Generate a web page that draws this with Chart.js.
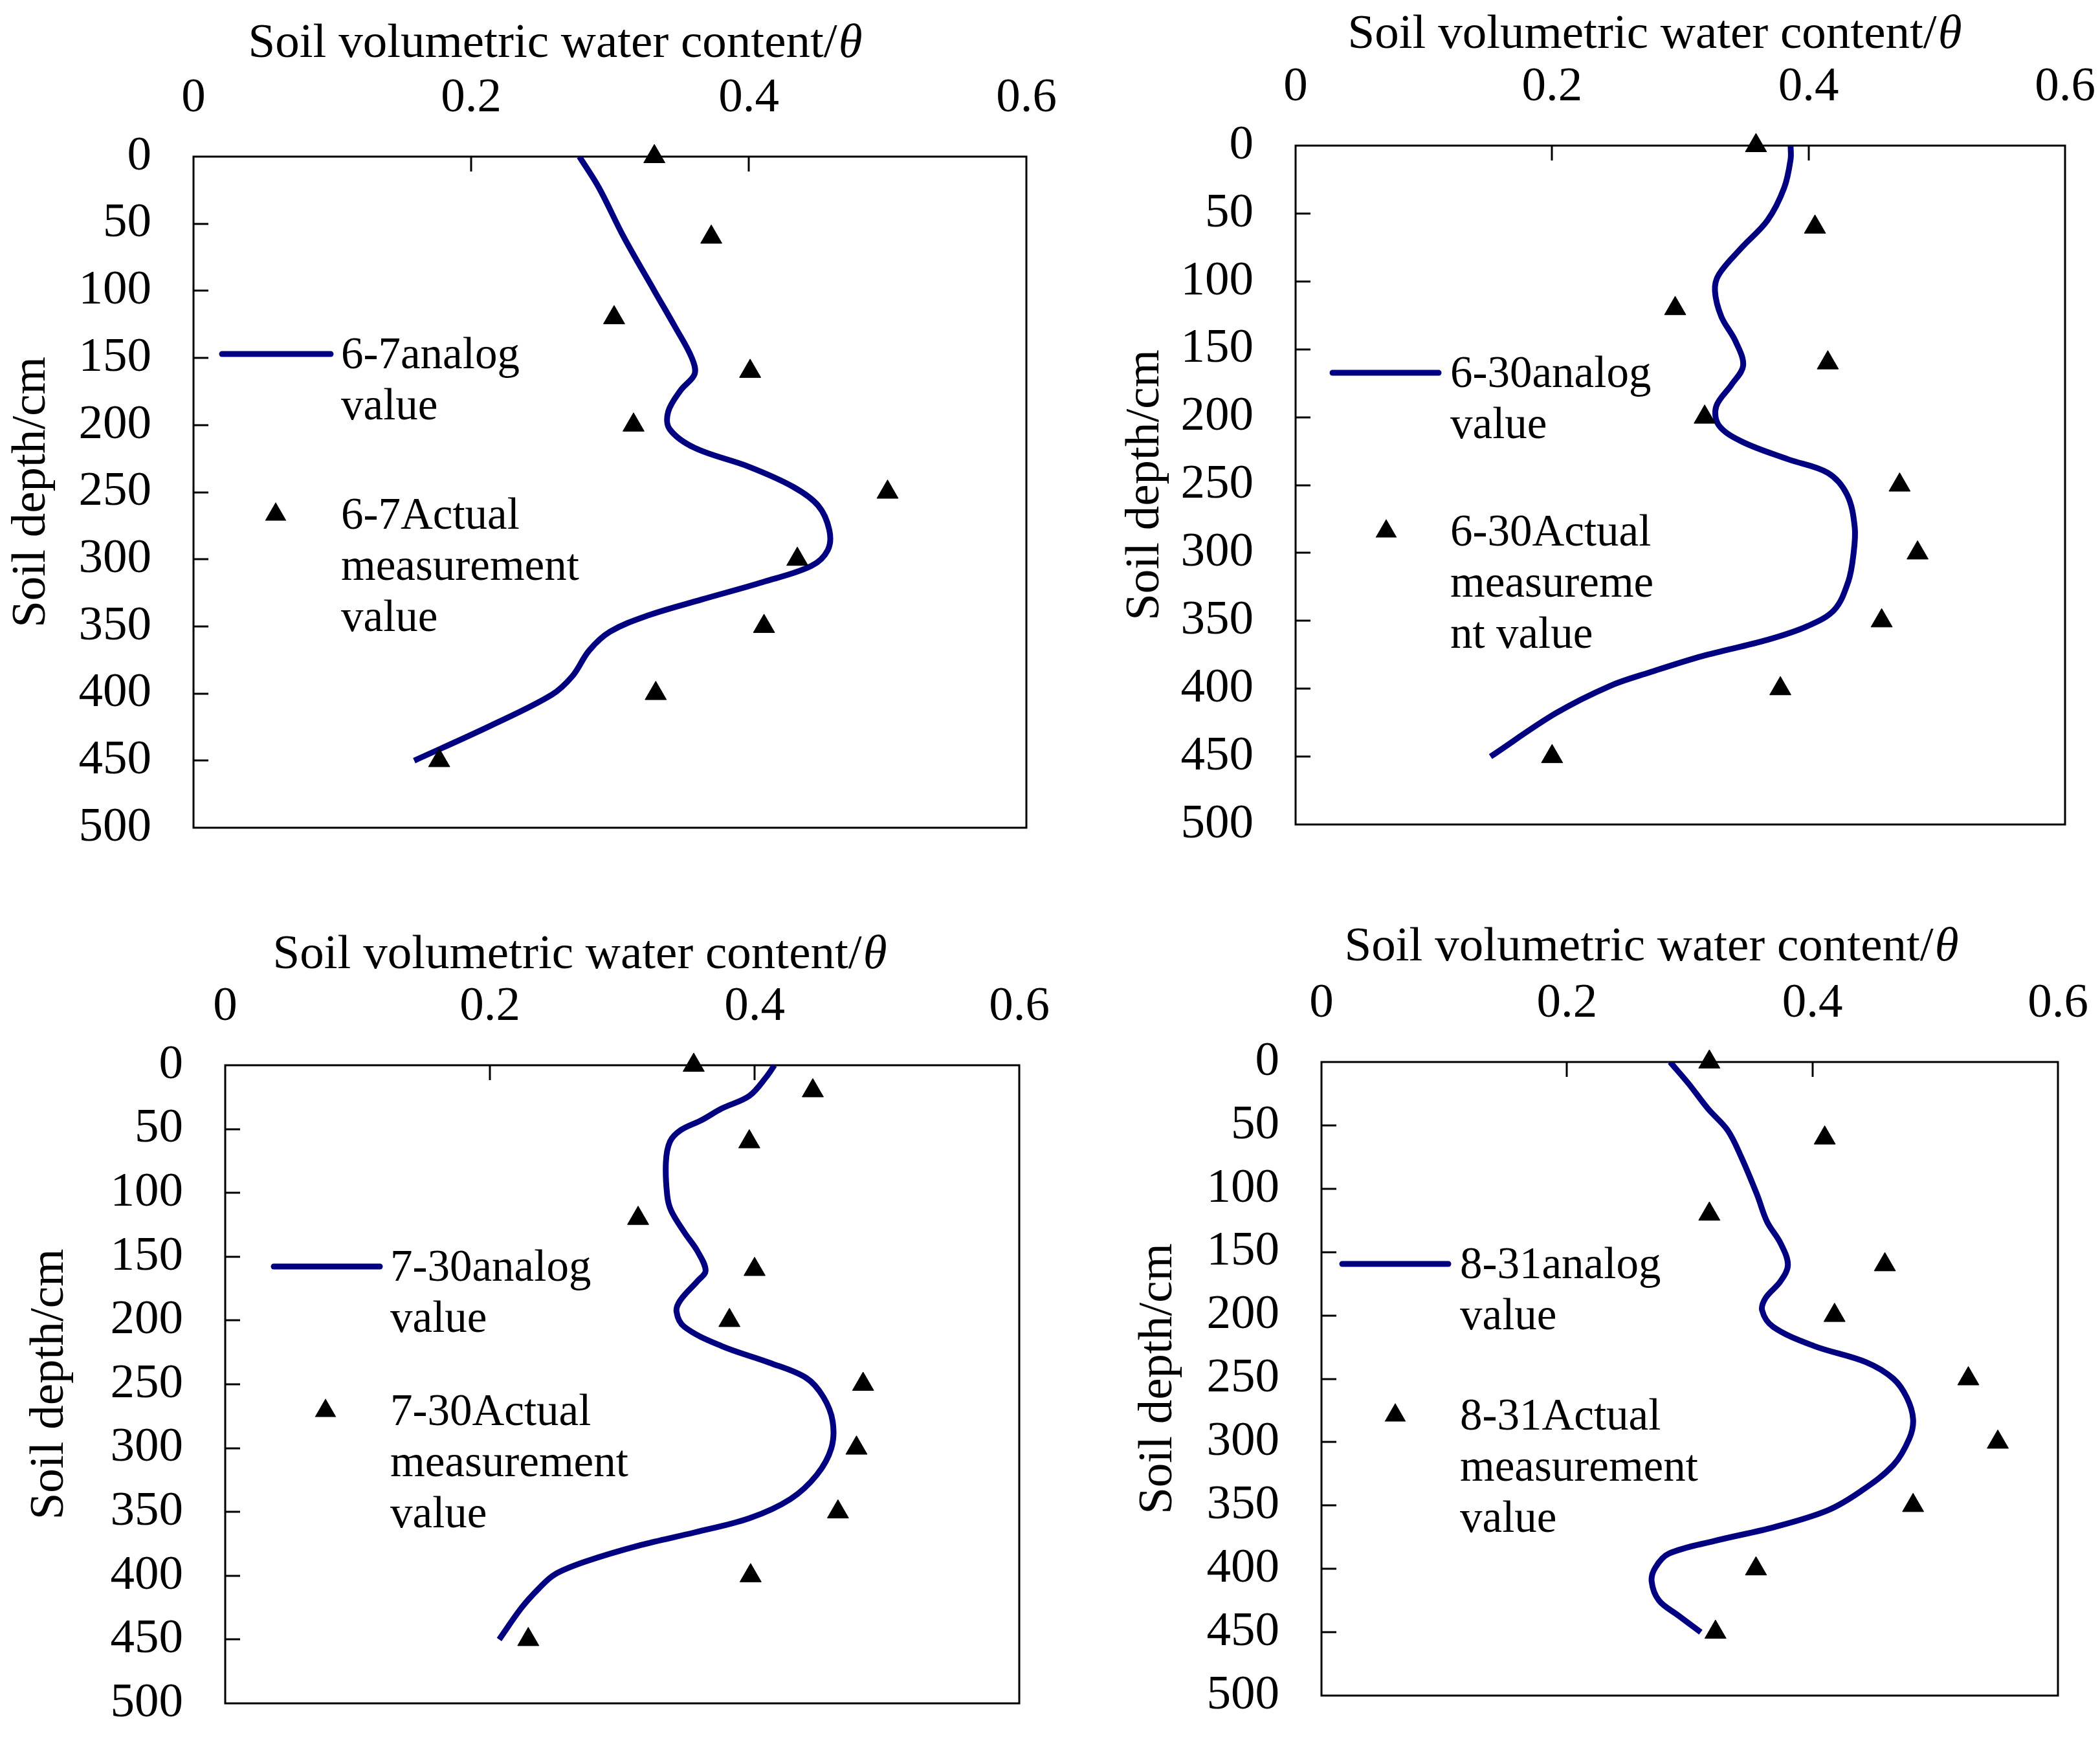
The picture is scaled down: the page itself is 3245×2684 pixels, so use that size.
<!DOCTYPE html>
<html>
<head>
<meta charset="utf-8">
<title>Soil water content profiles</title>
<script src="https://cdn.jsdelivr.net/npm/chart.js@4.4.0/dist/chart.umd.min.js"></script>
<style>
    html, body { margin: 0; padding: 0; background: #fff; overflow: hidden; width: 3245px; height: 2684px; }
    .panel { position: absolute; }
</style>
</head>
<body>
<script>
// ---- data ----
const thetaTicks = [0, 0.2, 0.4, 0.6];
const depthMax = 500;
const depthStep = 50;

// measured depths (cm)
const measuredDepth = [0, 60, 120, 160, 200, 250, 300, 350, 400, 450];
const measuredDepth730 = [0, 20, 60, 120, 160, 200, 250, 300, 350, 400, 450];

// 6-7
const measured67 = [0.332, 0.373, 0.303, 0.401, 0.317, 0.500, 0.435, 0.411, 0.333, 0.177];
const analogDepth67 = [0, 23, 60, 100, 127, 150, 162, 174, 190, 203, 217, 231, 246, 260, 278, 293, 305, 317, 330, 342, 354, 368, 387, 401, 424, 450];
const analog67 = [0.278, 0.292, 0.310, 0.332, 0.347, 0.359, 0.361, 0.351, 0.342, 0.343, 0.361, 0.400, 0.432, 0.450, 0.458, 0.457, 0.445, 0.410, 0.366, 0.327, 0.300, 0.285, 0.273, 0.258, 0.214, 0.159];

// 6-30
const measured630 = [0.359, 0.405, 0.296, 0.415, 0.319, 0.471, 0.485, 0.457, 0.378, 0.200];
const analogDepth630 = [0, 10, 31, 55, 75, 95, 107, 126, 144, 162, 176, 192, 206, 218, 231, 241, 257, 281, 301, 321, 342, 354, 364, 376, 388, 398, 418, 450];
const analog630 = [0.386, 0.386, 0.381, 0.368, 0.348, 0.330, 0.327, 0.332, 0.343, 0.349, 0.340, 0.328, 0.330, 0.348, 0.384, 0.415, 0.430, 0.436, 0.435, 0.431, 0.420, 0.399, 0.368, 0.317, 0.276, 0.245, 0.203, 0.152];

// 7-30
const measured730 = [0.354, 0.444, 0.396, 0.312, 0.400, 0.381, 0.482, 0.477, 0.463, 0.397, 0.229];
const analogDepth730 = [0, 9, 24, 34, 43, 51, 60, 76, 102, 114, 131, 146, 161, 169, 184, 193, 205, 220, 233, 245, 260, 279, 300, 321, 340, 355, 366, 376, 389, 399, 410, 425, 450];
const analog730 = [0.415, 0.409, 0.396, 0.375, 0.360, 0.344, 0.336, 0.333, 0.334, 0.337, 0.347, 0.357, 0.363, 0.357, 0.344, 0.341, 0.347, 0.375, 0.411, 0.439, 0.452, 0.459, 0.458, 0.447, 0.427, 0.396, 0.355, 0.314, 0.272, 0.249, 0.237, 0.224, 0.207];

// 8-31
const measured831 = [0.316, 0.410, 0.316, 0.459, 0.418, 0.527, 0.551, 0.482, 0.354, 0.321];
const analogDepth831 = [0, 17, 37, 54, 75, 105, 126, 143, 160, 173, 186, 196, 209, 224, 237, 250, 265, 282, 297, 318, 339, 354, 367, 378, 388, 399, 410, 425, 437, 450];
const analog831 = [0.284, 0.299, 0.315, 0.331, 0.342, 0.355, 0.363, 0.374, 0.380, 0.374, 0.362, 0.359, 0.368, 0.401, 0.444, 0.466, 0.477, 0.482, 0.479, 0.466, 0.439, 0.412, 0.369, 0.320, 0.283, 0.272, 0.269, 0.275, 0.291, 0.309];

// legend texts
const analogText67 = ['6-7analog', 'value'];
const actualText67 = ['6-7Actual', 'measurement', 'value'];
const analogText630 = ['6-30analog', 'value'];
const actualText630 = ['6-30Actual', 'measureme', 'nt value'];
const analogText730 = ['7-30analog', 'value'];
const actualText730 = ['7-30Actual', 'measurement', 'value'];
const analogText831 = ['8-31analog', 'value'];
const actualText831 = ['8-31Actual', 'measurement', 'value'];

const xTitle = 'Soil volumetric water content/';
const xTitleSymbol = '\u03b8';
const yTitle = 'Soil depth/cm';

// ---- styling ----
const FONT = '"Liberation Serif", "Times New Roman", serif';
const FONT_SIZE = 75;
const LEGEND_SIZE = 69;
const NAVY = '#000080';
const Y_PAD = 65;          // gap between depth labels and the box
const BOTTOM = 45 + Y_PAD; // chart.js keeps half a label + padding below the y axis

// layout of the four panels (page pixels)
const panels = [
    { L: 0,    T: 0,    plot: [299, 242, 1586, 1279],   title: [558, -174],
      depth: analogDepth67, theta: analog67, mDepth: measuredDepth, mTheta: measured67,
      analogText: analogText67, actualText: actualText67, leg: { x0: 44, x1: 212, y: 305, tx: 228, triX: 127, triY: 553 } },
    { L: 1721, T: 0,    plot: [2002, 225, 3191, 1274],  title: [554, -171],
      depth: analogDepth630, theta: analog630, mDepth: measuredDepth, mTheta: measured630,
      analogText: analogText630, actualText: actualText630, leg: { x0: 57, x1: 221, y: 351, tx: 239, triX: 140, triY: 596 } },
    { L: 28,   T: 1380, plot: [348, 1646, 1575, 2632],  title: [547, -170],
      depth: analogDepth730, theta: analog730, mDepth: measuredDepth730, mTheta: measured730,
      analogText: analogText730, actualText: actualText730, leg: { x0: 75, x1: 239, y: 311, tx: 255, triX: 155, triY: 534 } },
    { L: 1741, T: 1380, plot: [2042, 1641, 3180, 2620], title: [509, -177],
      depth: analogDepth831, theta: analog831, mDepth: measuredDepth, mTheta: measured831,
      analogText: analogText831, actualText: actualText831, leg: { x0: 32, x1: 196, y: 312, tx: 214, triX: 114, triY: 546 } }
];

function triangle(ctx, x, y, r) {
    ctx.beginPath();
    let rad = 0;
    ctx.moveTo(x + Math.sin(rad) * r, y - Math.cos(rad) * r);
    rad += Math.PI * 2 / 3;
    ctx.lineTo(x + Math.sin(rad) * r, y - Math.cos(rad) * r);
    rad += Math.PI * 2 / 3;
    ctx.lineTo(x + Math.sin(rad) * r, y - Math.cos(rad) * r);
    ctx.closePath();
    ctx.fill();
}

// box round the plot, inward tick marks and the x title
const frameTicks = {
    id: 'frameTicks',
    beforeDatasetsDraw(chart, args, opts) {
        const { ctx, chartArea: a, scales } = chart;
        ctx.save();
        ctx.strokeStyle = '#000';
        ctx.lineWidth = 3;
        ctx.strokeRect(a.left, a.top, a.right - a.left, a.bottom - a.top);
        ctx.beginPath();
        scales.y.ticks.forEach(t => {
            if (t.value <= 0 || t.value >= depthMax) return;
            const py = Math.round(scales.y.getPixelForValue(t.value));
            ctx.moveTo(a.left, py);
            ctx.lineTo(a.left + 23, py);
        });
        scales.x.ticks.forEach(t => {
            if (t.value <= 0 || t.value >= 0.6) return;
            const px = Math.round(scales.x.getPixelForValue(t.value));
            ctx.moveTo(px, a.top);
            ctx.lineTo(px, a.top + 23);
        });
        ctx.stroke();

        // x axis title, italic theta at the end
        const plain = `${FONT_SIZE}px ${FONT}`;
        const italic = `italic ${FONT_SIZE}px ${FONT}`;
        ctx.font = plain;
        const w1 = ctx.measureText(xTitle).width;
        ctx.font = italic;
        const w2 = ctx.measureText(xTitleSymbol).width;
        const cx = a.left + opts.title[0];
        const cy = a.top + opts.title[1];
        const start = cx - (w1 + w2) / 2;
        ctx.fillStyle = '#000';
        ctx.textBaseline = 'middle';
        ctx.textAlign = 'left';
        ctx.font = plain;
        ctx.fillText(xTitle, start, cy);
        ctx.font = italic;
        ctx.fillText(xTitleSymbol, start + w1 + 2, cy);
        ctx.restore();
    }
};

// wrapped legend inside the plot
const soilLegend = {
    id: 'soilLegend',
    afterDraw(chart, args, opts) {
        const { ctx, chartArea: a } = chart;
        const g = opts.leg;
        ctx.save();
        ctx.font = `${LEGEND_SIZE}px ${FONT}`;
        ctx.fillStyle = '#000';
        ctx.textAlign = 'left';
        ctx.textBaseline = 'alphabetic';

        const ly = a.top + g.y;
        ctx.strokeStyle = NAVY;
        ctx.lineWidth = 9;
        ctx.lineCap = 'round';
        ctx.beginPath();
        ctx.moveTo(a.left + g.x0, ly);
        ctx.lineTo(a.left + g.x1, ly);
        ctx.stroke();
        opts.analogText.forEach((t, i) => ctx.fillText(t, a.left + g.tx, ly + 22 + i * 79));

        const ty = a.top + g.triY;
        triangle(ctx, a.left + g.triX, ty, 19);
        opts.actualText.forEach((t, i) => ctx.fillText(t, a.left + g.tx, ty + 22 + i * 79));
        ctx.restore();
    }
};

function makePanel(p) {
    const [pl, pt, pr, pb] = p.plot;
    const div = document.createElement('div');
    div.className = 'panel';
    div.style.left = p.L + 'px';
    div.style.top = p.T + 'px';
    div.style.width = (pr - p.L + 130) + 'px';
    div.style.height = (pb - p.T + BOTTOM) + 'px';
    const canvas = document.createElement('canvas');
    div.appendChild(canvas);
    document.body.appendChild(div);

    const yW = pl - p.L;
    const xH = pt - p.T;
    const tickFont = { family: FONT, size: FONT_SIZE };

    return new Chart(canvas, {
        type: 'scatter',
        data: {
            datasets: [
                {
                    label: p.analogText.join(' '),
                    data: p.depth.map((d, i) => ({ x: p.theta[i], y: d })),
                    showLine: true,
                    borderColor: NAVY,
                    borderWidth: 9,
                    pointRadius: 0,
                    tension: 0.35,
                    order: 2
                },
                {
                    label: p.actualText.join(' '),
                    data: p.mDepth.map((d, i) => ({ x: p.mTheta[i], y: d })),
                    showLine: false,
                    pointStyle: 'triangle',
                    pointRadius: 19,
                    backgroundColor: '#000',
                    borderColor: '#000',
                    borderWidth: 1,
                    clip: false,
                    order: 1
                }
            ]
        },
        options: {
            responsive: true,
            maintainAspectRatio: false,
            animation: false,
            devicePixelRatio: 1,
            layout: { padding: { left: 0, top: 0, right: 130, bottom: BOTTOM } },
            plugins: {
                legend: { display: false },
                tooltip: { enabled: false },
                frameTicks: { title: p.title },
                soilLegend: { leg: p.leg, analogText: p.analogText, actualText: p.actualText }
            },
            scales: {
                x: {
                    type: 'linear',
                    position: 'top',
                    min: thetaTicks[0],
                    max: thetaTicks[thetaTicks.length - 1],
                    ticks: {
                        stepSize: thetaTicks[1] - thetaTicks[0],
                        padding: 45,
                        color: '#000',
                        font: tickFont,
                        maxRotation: 0,
                        autoSkip: false,
                        callback: v => String(+v.toFixed(1))
                    },
                    grid: { display: false, drawTicks: false },
                    border: { display: false },
                    afterFit: s => { s.height = xH; }
                },
                y: {
                    type: 'linear',
                    position: 'left',
                    reverse: true,
                    min: 0,
                    max: depthMax,
                    ticks: {
                        stepSize: depthStep,
                        padding: Y_PAD,
                        color: '#000',
                        font: tickFont,
                        autoSkip: false
                    },
                    grid: { display: false, drawTicks: false },
                    border: { display: false },
                    title: {
                        display: true,
                        text: yTitle,
                        color: '#000',
                        font: tickFont,
                        padding: { top: 4, bottom: 0 }
                    },
                    afterFit: s => { s.width = yW; }
                }
            }
        },
        plugins: [frameTicks, soilLegend]
    });
}

panels.forEach(makePanel);
</script>
</body>
</html>
